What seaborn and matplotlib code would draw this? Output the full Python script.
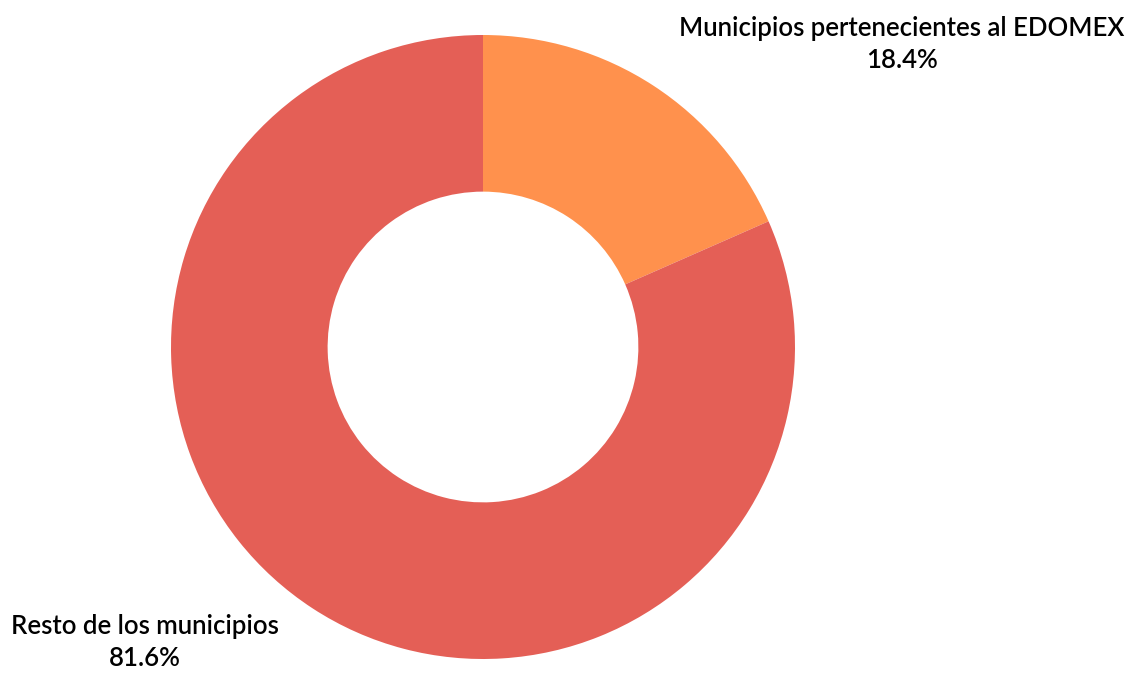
import matplotlib.pyplot as plt
import seaborn as sns

# datos
categorias = ['Municipios pertenecientes al EDOMEX', 'Resto de los municipios']
porcentajes = [18.4, 81.6]
colores = ['#FF914D', '#E45F56']

sns.set_theme(style='white')
plt.rcParams['font.family'] = ['Lato', 'DejaVu Sans']

fig = plt.figure(figsize=(11.29, 6.73), dpi=100)
# centro ~ (483, 347) px, radio ~ 312 px
ax = fig.add_axes([(483 - 312) / 1129, (673 - 347 - 312) / 673, 624 / 1129, 624 / 673])

ax.pie(porcentajes, colors=colores, startangle=90, counterclock=False,
       radius=1.0, wedgeprops=dict(width=0.502, linewidth=0))
ax.set_xlim(-1, 1)
ax.set_ylim(-1, 1)
ax.set_aspect('equal')
ax.axis('off')

# etiquetas
posiciones = [(1.343, 0.968), (-1.083, -0.948)]
for cat, pct, (x, y) in zip(categorias, porcentajes, posiciones):
    ax.text(x, y, f'{cat}\n{pct:.1f}%', ha='center', va='center',
            fontsize=18.5, fontweight='semibold', color='black',
            linespacing=1.35, clip_on=False)

fig.savefig('out.png', dpi=100)
plt.close(fig)
